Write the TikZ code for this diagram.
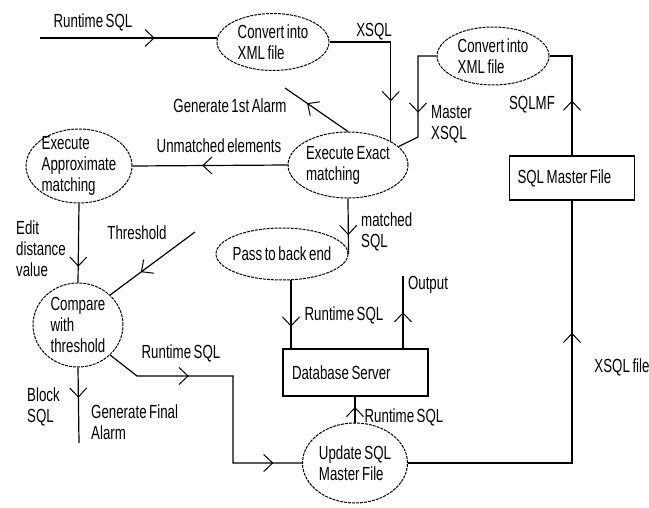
\documentclass[tikz,border=0pt]{standalone}
\usepackage{fontspec}
\setmainfont{Liberation Sans}[FakeStretch=0.7,WordSpace=0.7]
\usepackage{tikz}
\usetikzlibrary{arrows.meta,decorations.markings,shapes.geometric}

\tikzset{
  procnode/.style={draw,ellipse,dash pattern=on 3pt off 1pt,line width=1pt,inner sep=0pt,align=left},
  boxnode/.style={draw,rectangle,line width=1.2pt,inner ysep=0pt,align=flush left},
  lbl/.style={inner sep=0pt,align=left},
  flow/.style={line width=1.2pt},
  midarr/.style={postaction={decorate,decoration={markings,
    mark=at position #1 with {\arrow{Straight Barb[length=9pt,width=17pt,line width=1pt]}}}}}
}

\begin{document}
\begin{tikzpicture}[x=1pt,y=-1pt,font=\fontsize{19}{21}\selectfont]
     \useasboundingbox (0,0) rectangle (649,508);

     % processes
     \node[procnode,minimum width=112pt,minimum height=57pt,inner ysep=-2pt] (conv1) at (273,42) {Convert into\\XML file};
     \node[procnode,minimum width=112pt,minimum height=58pt,inner ysep=-2pt] (conv2) at (493,56) {Convert into\\XML file};
     \node[procnode,minimum width=120pt,minimum height=66pt,inner xsep=-2pt] (exact) at (348,165) {Execute Exact\\matching};
     \node[procnode,minimum width=106pt,minimum height=74pt,inner ysep=-8pt] (approx) at (79,166) {Execute\\Approximate\\matching};
     \node[procnode,minimum width=90pt,minimum height=84pt,inner ysep=-3pt] (compare) at (78,325) {Compare\\with\\threshold};
     \node[procnode,minimum width=132pt,minimum height=52pt,inner xsep=-6pt] (pass) at (282,254) {Pass to back end};
     \node[procnode,minimum width=105pt,minimum height=80pt] (update) at (355,463) {Update SQL\\Master File};

     % stores
     \node[boxnode,inner xsep=8pt,text width=109pt,minimum height=44pt] (master) at (572,178) {SQL Master File};
     \node[boxnode,inner xsep=9pt,text width=127pt,minimum height=47pt] (db) at (355.5,372.5) {Database Server};

     % free ends
     \coordinate (in0) at (40,38);
     \coordinate (bend2) at (418,137);
     \coordinate (alarm1) at (285,88);
     \coordinate (thr) at (195,232);
     \coordinate (blk) at (79,443);
     \coordinate (cmpA) at (137,376);
     \coordinate (cmpB) at (233,420);
     \coordinate (outp) at (403,276);

     % connectors
     \draw[flow,midarr=0.65] (in0) -- (in0 -| conv1.west);
     \draw[flow,midarr=0.75] (conv1.east) -| (exact.north east);
     \draw[flow,midarr=0.62] (conv2.west) -| (bend2) -- (exact.20);
     \draw[flow,midarr=0.45] (master.north) |- (conv2.east);
     \draw[flow,midarr=0.69] (update.east) -| (master.south);
     \draw[flow,midarr=0.65] (exact.north) -- (alarm1);
     \draw[flow,midarr=0.55] (exact.west) -- (approx.east);
     \draw[flow,midarr=0.8] (approx.south) -- (compare.north);
     \draw[flow,midarr=0.64] (thr) -- (compare.north east);
     \draw[flow,midarr=0.4] (compare.south) -- (blk);
     \draw[flow,midarr=0.3,midarr=0.9] (compare.south east) -- (cmpA) -| (cmpB) |- (update.west);
     \draw[flow,midarr=0.66] (exact.south) -- (pass.east);
     \draw[flow,midarr=0.68] ([xshift=9pt]pass.south) -- ([xshift=9pt]pass.south |- db.north);
     \draw[flow,midarr=0.5] (db.north -| outp) -- (outp);
     \draw[flow,midarr=0.6] (update.north) -- (update.north |- db.south);

     % labels
     \node[lbl] (lrt1) at (93,22) {Runtime SQL};
     \node[lbl] (lxsql) at (374,32) {XSQL};
     \node[lbl,anchor=west] (lmaster) at (431,124) {Master\\XSQL};
     \node[lbl] (lsqlmf) at (532,105) {SQLMF};
     \node[lbl] (lalarm1) at (230,106) {Generate 1st Alarm};
     \node[lbl] (lunm) at (219,146) {Unmatched elements};
     \node[lbl,anchor=west] (ledit) at (16,249) {Edit\\distance\\value};
     \node[lbl] (lthr) at (137,233) {Threshold};
     \node[lbl,anchor=west] (lmatch) at (361,232) {matched\\SQL};
     \node[lbl] (lrt2) at (344,315) {Runtime SQL};
     \node[lbl] (lout) at (428,285) {Output};
     \node[lbl] (lrt3) at (181,353) {Runtime SQL};
     \node[lbl,anchor=west] (lblock) at (27,407) {Block\\SQL};
     \node[lbl,anchor=west] (lfinal) at (91,422) {Generate Final\\Alarm};
     \node[lbl] (lrt4) at (404,417) {Runtime SQL};
     \node[lbl] (lxfile) at (622,367) {XSQL file};
\end{tikzpicture}
\end{document}
